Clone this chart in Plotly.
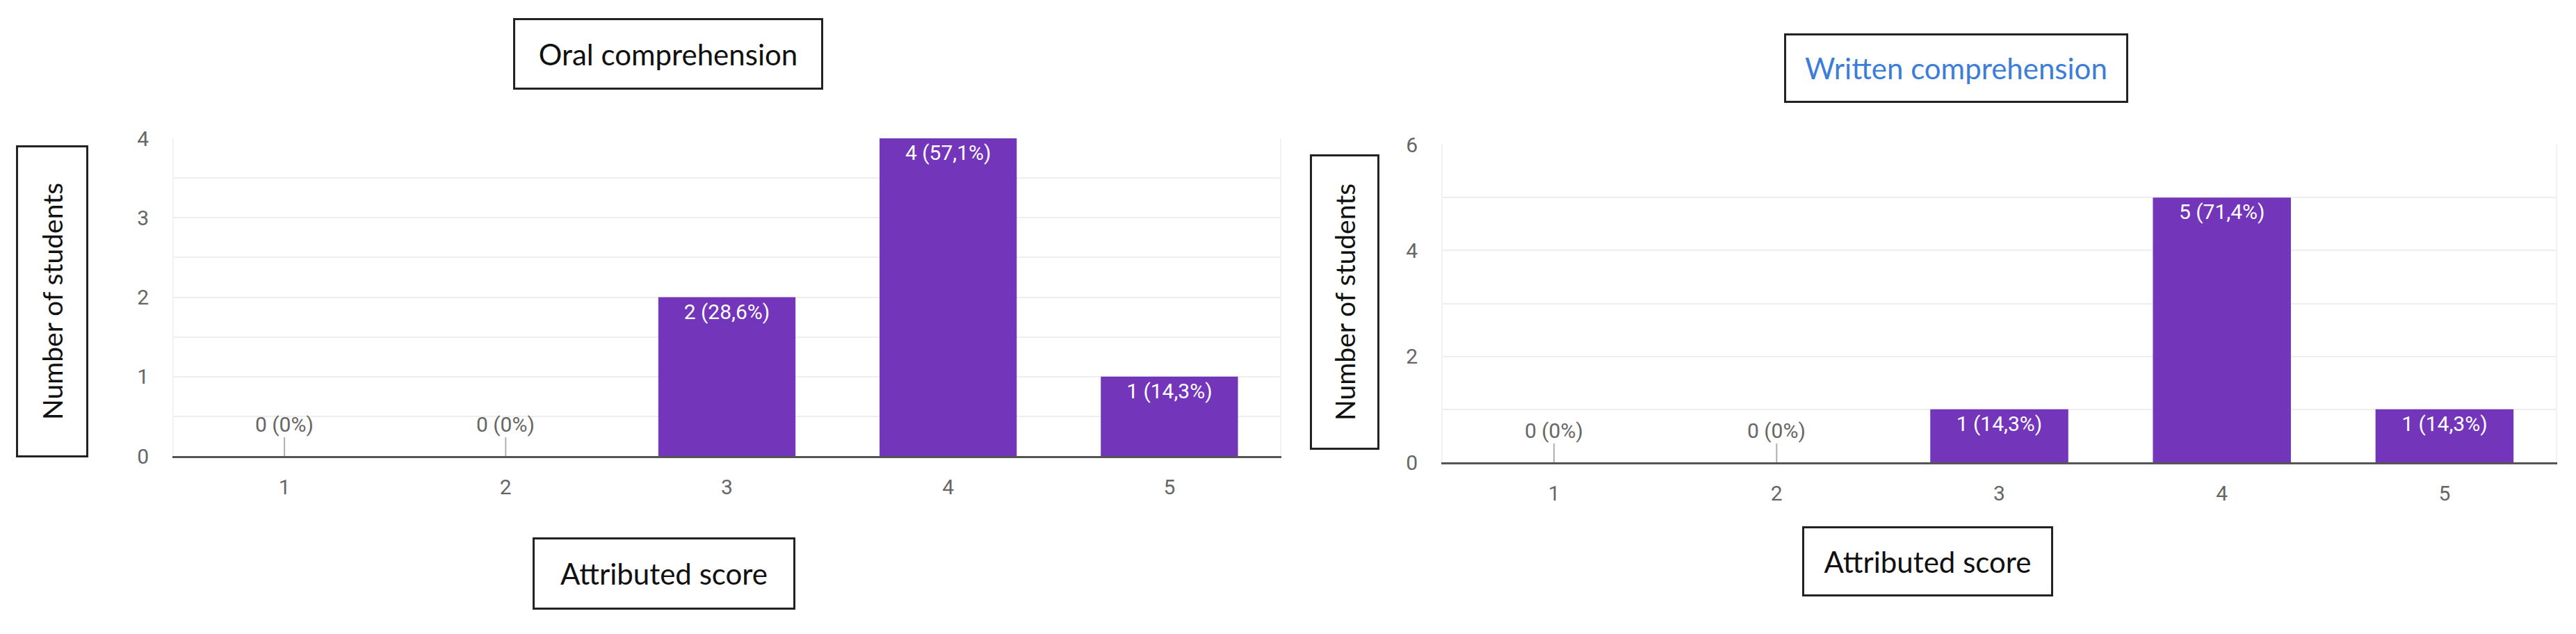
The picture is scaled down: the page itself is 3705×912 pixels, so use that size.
import plotly.graph_objects as go

# data
scores = [1, 2, 3, 4, 5]
oral_counts = [0, 0, 2, 4, 1]
written_counts = [0, 0, 1, 5, 1]

oral_title = "Oral comprehension"
written_title = "Written comprehension"
y_title = "Number of students"
x_title = "Attributed score"

W, H = 3705, 912
OFF = 8  # page margin around the plot div
BAR = "#7335ba"
TICK = "#666666"
GRID = "#eeeeee"


def fx(p):
    return (p - OFF) / W


def fy(p):
    return 1 - (p - OFF) / H


def label(c, total):
    pct = round(100 * c / total, 1)
    if pct == int(pct):
        s = str(int(pct))
    else:
        s = f"{pct:.1f}".replace(".", ",")
    return f"{c} ({s}%)"


def box(text, cx, cy, w, h, color="#111111", angle=0, size=42):
    return dict(text=text, x=fx(cx), y=fy(cy), xref="paper", yref="paper",
                xanchor="center", yanchor="middle",
                showarrow=False, textangle=angle,
                width=w, height=h, align="center", valign="middle",
                bgcolor="white", bordercolor="#222222", borderwidth=3, borderpad=0,
                font=dict(family="Lato", size=size, color=color))


panels = [
    dict(counts=oral_counts, ax="", xdom=(250, 1841), ydom=(199, 656), ymax=4, dtick=1, minor=0.5,
         title=oral_title, title_color="#111111", title_box=(961, 78, 440, 97),
         ybox=(75, 434, 443, 98), xbox=(955, 825, 372, 98)),
    dict(counts=written_counts, ax="2", xdom=(2075, 3676), ydom=(208, 665), ymax=6, dtick=2, minor=1,
         title=written_title, title_color="#3c7dd8", title_box=(2813, 98, 489, 94),
         ybox=(1934, 435, 419, 94), xbox=(2772, 807, 355, 95)),
]

fig = go.Figure()
annotations = []

for p in panels:
    counts = p["counts"]
    total = sum(counts)
    texts = [label(c, total) if c > 0 else "" for c in counts]
    xa, ya = "x" + p["ax"], "y" + p["ax"]
    fig.add_trace(go.Bar(x=scores, y=counts, text=texts, textposition="inside",
                         insidetextanchor="end", textangle=0,
                         textfont=dict(family="Roboto", size=30, color="white"),
                         marker=dict(color=BAR, line=dict(width=0)),
                         xaxis=xa, yaxis=ya, showlegend=False))
    # zero values: grey label on a short stub
    for s, c in zip(scores, counts):
        if c == 0:
            annotations.append(dict(x=s, y=0, xref=xa, yref=ya, text=label(c, total),
                                    showarrow=True, arrowhead=0, arrowwidth=2, arrowcolor="#b0b0b0",
                                    ax=0, ay=-46, font=dict(family="Roboto", size=30, color=TICK)))
    tb = p["title_box"]
    annotations.append(box(p["title"], tb[0], tb[1], tb[2], tb[3], color=p["title_color"]))
    yb = p["ybox"]
    annotations.append(box(y_title, yb[0], yb[1], yb[2], yb[3], angle=-90, size=39))
    xb = p["xbox"]
    annotations.append(box(x_title, xb[0], xb[1], xb[2], xb[3]))

    key = p["ax"]
    fig.update_layout(**{
        "xaxis" + key: dict(domain=[fx(p["xdom"][0]), fx(p["xdom"][1])], anchor=ya,
                            range=[0.5, 5.5], tickvals=scores, showgrid=False, zeroline=False,
                            showline=True, linecolor="#555555", linewidth=3,
                            ticks="", ticklabelstandoff=16, automargin=False,
                            tickfont=dict(family="Roboto", size=30, color=TICK)),
        "yaxis" + key: dict(domain=[fy(p["ydom"][1]), fy(p["ydom"][0])], anchor=xa,
                            range=[0, p["ymax"]], dtick=p["dtick"], tick0=0,
                            showgrid=True, gridcolor=GRID, gridwidth=2, zeroline=False,
                            minor=dict(dtick=p["minor"], showgrid=True, gridcolor=GRID, gridwidth=2),
                            showline=True, linecolor="#f2f2f2", linewidth=2, mirror=True,
                            ticks="", ticklabelstandoff=28, automargin=False,
                            tickfont=dict(family="Roboto", size=30, color=TICK)),
    })

fig.update_layout(width=W, height=H, margin=dict(l=0, r=0, t=0, b=0, pad=0),
                  paper_bgcolor="white", plot_bgcolor="white",
                  bargap=0.38, annotations=annotations)

fig.write_html("out.html")
